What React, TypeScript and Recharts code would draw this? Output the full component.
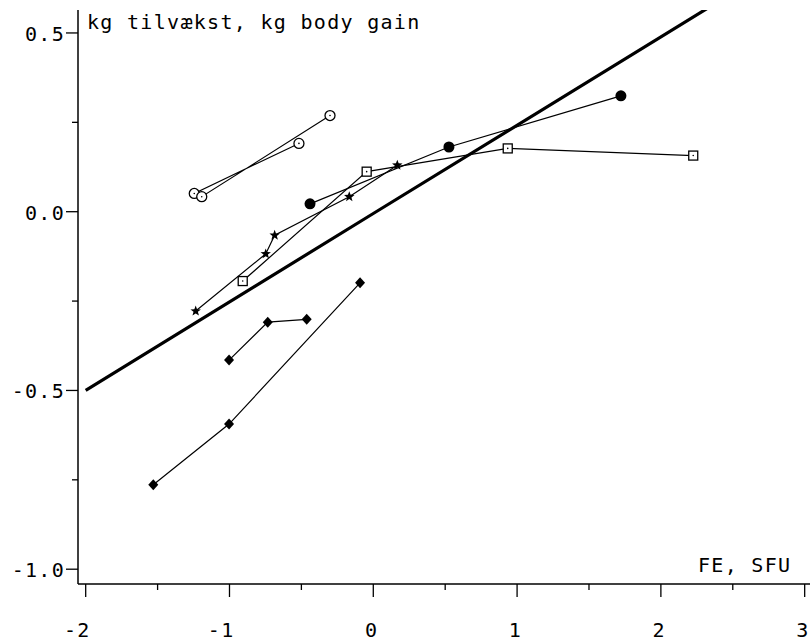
import React from 'react';
import { ScatterChart, Scatter, XAxis, YAxis } from 'recharts';

// series, { x: FE (SFU), y: kg body gain }
const openCircles = [
  { x: -0.517, y: 0.191 },
  { x: -1.245, y: 0.051 },
  { x: -1.193, y: 0.042 },
  { x: -0.301, y: 0.269 },
];

const stars = [
  { x: -1.235, y: -0.278 },
  { x: -0.748, y: -0.118 },
  { x: -0.686, y: -0.066 },
  { x: -0.167, y: 0.042 },
  { x: 0.167, y: 0.13 },
];

const squares = [
  { x: -0.908, y: -0.194 },
  { x: -0.046, y: 0.112 },
  { x: 0.935, y: 0.177 },
  { x: 2.225, y: 0.157 },
];

const dots = [
  { x: -0.44, y: 0.022 },
  { x: 0.526, y: 0.181 },
  { x: 1.722, y: 0.324 },
];

const diamondsA = [
  { x: -1.003, y: -0.415 },
  { x: -0.734, y: -0.309 },
  { x: -0.463, y: -0.301 },
];

const diamondsB = [
  { x: -1.53, y: -0.764 },
  { x: -1.003, y: -0.594 },
  { x: -0.092, y: -0.199 },
];

const fitLine = [
  { x: -2, y: -0.5 },
  { x: 0, y: -0.005 },
  { x: 2.32, y: 0.568 },
];

const xTicks = [-2, -1.5, -1, -0.5, 0, 0.5, 1, 1.5, 2, 2.5, 3];
const yTicks = [-1, -0.75, -0.5, -0.25, 0, 0.25, 0.5];

const FONT = "'DejaVu Sans Mono', monospace";

const XTick = ({ x, y, payload }: any) => {
  const v = payload.value;
  const major = Math.abs(v - Math.round(v)) < 1e-6;
  return (
    <g>
      <line x1={x} x2={x} y1={y} y2={y + (major ? 13 : 6)} stroke="#000" strokeWidth={1.3} />
      {major && (
        <text x={x + 5} y={y + 53} textAnchor="end" fontSize={20} fontFamily={FONT} letterSpacing={1.3} fill="#000">
          {String(v)}
        </text>
      )}
    </g>
  );
};

const YTick = ({ x, y, payload }: any) => {
  const v = payload.value;
  const major = Math.abs(v * 2 - Math.round(v * 2)) < 1e-6;
  return (
    <g>
      <line x1={x - (major ? 12 : 6)} x2={x} y1={y} y2={y} stroke="#000" strokeWidth={1.3} />
      {major && (
        <text x={x - 13} y={y + 8} textAnchor="end" fontSize={20} fontFamily={FONT} letterSpacing={1.3} fill="#000">
          {v.toFixed(1)}
        </text>
      )}
    </g>
  );
};

const OpenCircle = ({ cx, cy }: any) => (
  <g>
    <circle cx={cx} cy={cy} r={5} fill="#fff" stroke="#000" strokeWidth={1.3} />
    <circle cx={cx} cy={cy} r={0.8} fill="#000" />
  </g>
);

const OpenSquare = ({ cx, cy }: any) => (
  <g>
    <rect x={cx - 4.5} y={cy - 4.5} width={9} height={9} fill="#fff" stroke="#000" strokeWidth={1.3} />
    <circle cx={cx} cy={cy} r={0.8} fill="#000" />
  </g>
);

const Dot = ({ cx, cy }: any) => <circle cx={cx} cy={cy} r={5.5} fill="#000" />;

const Diamond = ({ cx, cy }: any) => (
  <path d={`M${cx},${cy - 5.5} L${cx + 5},${cy} L${cx},${cy + 5.5} L${cx - 5},${cy} Z`} fill="#000" />
);

const Star = ({ cx, cy }: any) => {
  const pts: string[] = [];
  for (let i = 0; i < 10; i++) {
    const r = i % 2 === 0 ? 5.5 : 2.3;
    const a = -Math.PI / 2 + (i * Math.PI) / 5;
    pts.push(`${cx + r * Math.cos(a)},${cy + r * Math.sin(a)}`);
  }
  return <polygon points={pts.join(' ')} fill="#000" />;
};

const NoMark = () => <g />;

const thin = { stroke: '#000', strokeWidth: 1.2 };

export default function App() {
  return (
    <div style={{ position: 'absolute', left: 0, top: 0, width: 810, height: 642, background: '#fff' }}>
      <ScatterChart width={810} height={642} margin={{ top: 10, right: 0, bottom: 8, left: 18 }}>
        <XAxis
          type="number"
          dataKey="x"
          domain={[-2.0535, 3.037]}
          allowDataOverflow
          ticks={xTicks}
          interval={0}
          height={50}
          tickSize={0}
          tickMargin={0}
          tickLine={false}
          tick={<XTick />}
          axisLine={{ stroke: '#000', strokeWidth: 1.5 }}
        />
        <YAxis
          type="number"
          dataKey="y"
          domain={[-1.0414, 0.5642]}
          allowDataOverflow
          ticks={yTicks}
          interval={0}
          width={60}
          tickSize={0}
          tickMargin={0}
          tickLine={false}
          tick={<YTick />}
          axisLine={{ stroke: '#000', strokeWidth: 1.5 }}
        />
        <Scatter data={fitLine} fill="#000" line={{ stroke: '#000', strokeWidth: 3.2 }} shape={<NoMark />} isAnimationActive={false} />
        <Scatter data={openCircles} fill="#000" line={thin} shape={<OpenCircle />} isAnimationActive={false} />
        <Scatter data={stars} fill="#000" line={thin} shape={<Star />} isAnimationActive={false} />
        <Scatter data={squares} fill="#000" line={thin} shape={<OpenSquare />} isAnimationActive={false} />
        <Scatter data={dots} fill="#000" line={thin} shape={<Dot />} isAnimationActive={false} />
        <Scatter data={diamondsA} fill="#000" line={thin} shape={<Diamond />} isAnimationActive={false} />
        <Scatter data={diamondsB} fill="#000" line={thin} shape={<Diamond />} isAnimationActive={false} />
      </ScatterChart>
      <svg width={810} height={642} style={{ position: 'absolute', left: 0, top: 0, pointerEvents: 'none' }}>
        <text x={87} y={29} fontSize={20} fontFamily={FONT} letterSpacing={1.3} fill="#000">
          kg tilvækst, kg body gain
        </text>
        <text x={698} y={572} fontSize={20} fontFamily={FONT} letterSpacing={1.3} fill="#000">
          FE, SFU
        </text>
      </svg>
    </div>
  );
}
